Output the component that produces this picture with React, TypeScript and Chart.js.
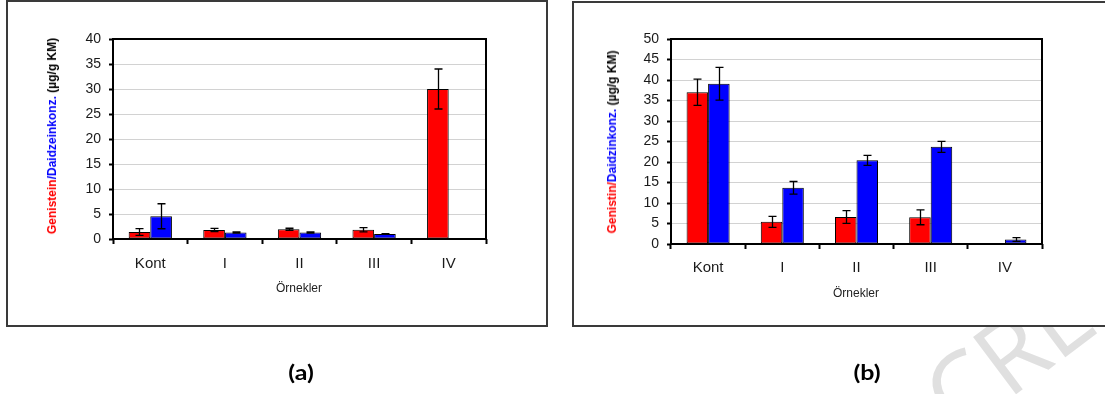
import React, { useEffect, useRef } from "react";
import { Chart, registerables } from "chart.js";

Chart.register(...registerables);

const categories = ["Kont", "I", "II", "III", "IV"];

// Chart (a)
const genisteinA = [1.4, 1.8, 1.95, 1.85, 30.0];
const genisteinErrA = [0.67, 0.33, 0.2, 0.43, 4.0];
const daidzeinA = [4.55, 1.3, 1.3, 1.0, 0];
const daidzeinErrA = [2.5, 0.1, 0.12, 0.08, 0];
const yMaxA = 40;

// Chart (b)
const genistinB = [37.0, 5.4, 6.6, 6.5, 0];
const genistinErrB = [3.2, 1.35, 1.55, 1.8, 0];
const daidzinB = [39.1, 13.7, 20.4, 23.7, 1.1];
const daidzinErrB = [4.0, 1.55, 1.2, 1.35, 0.45];
const yMaxB = 50;

const yStep = 5;

const RED = "#ff0000";
const BLUE = "#0000ff";
const FONT = '"Liberation Sans", Arial, sans-serif';

const errorBarPlugin = {
  id: "errorBars",
  afterDatasetsDraw(chart: any, _args: any, opts: any) {
    const errs: number[][] = opts.errors || [];
    const ctx = chart.ctx;
    const y = chart.scales.y;
    ctx.save();
    ctx.strokeStyle = "#000";
    ctx.lineWidth = 1.3;
    chart.data.datasets.forEach((ds: any, di: number) => {
      const meta = chart.getDatasetMeta(di);
      const e = errs[di] || [];
      meta.data.forEach((bar: any, i: number) => {
        const v = ds.data[i];
        const er = e[i] || 0;
        if (!er) return;
        const x = Math.round(bar.x) + 0.5;
        const yt = y.getPixelForValue(v + er);
        const yb = y.getPixelForValue(Math.max(0, v - er));
        ctx.beginPath();
        ctx.moveTo(x, yt);
        ctx.lineTo(x, yb);
        ctx.moveTo(x - 4, yt);
        ctx.lineTo(x + 4, yt);
        ctx.moveTo(x - 4, yb);
        ctx.lineTo(x + 4, yb);
        ctx.stroke();
      });
    });
    // plot frame
    const a = chart.chartArea;
    ctx.strokeStyle = "#000";
    ctx.lineWidth = 2;
    ctx.strokeRect(a.left, a.top, a.right - a.left, a.bottom - a.top);
    ctx.restore();
  },
};

function BarChart(props: {
  s1: number[];
  e1: number[];
  s2: number[];
  e2: number[];
  yMax: number;
  width: number;
  height: number;
  yWidth: number;
  xHeight: number;
  padTop: number;
  padRight: number;
  xPad: number;
}) {
  const ref = useRef<HTMLCanvasElement | null>(null);
  useEffect(() => {
    if (!ref.current) return;
    const chart = new Chart(ref.current, {
      type: "bar",
      data: {
        labels: categories,
        datasets: [
          {
            data: props.s1,
            backgroundColor: RED,
            borderColor: "#000",
            borderWidth: 1,
            borderSkipped: false,
            categoryPercentage: 0.58,
            barPercentage: 1,
          },
          {
            data: props.s2,
            backgroundColor: BLUE,
            borderColor: "#000",
            borderWidth: 1,
            borderSkipped: false,
            categoryPercentage: 0.58,
            barPercentage: 1,
          },
        ],
      },
      plugins: [errorBarPlugin],
      options: {
        responsive: false,
        animation: false,
        devicePixelRatio: 1,
        layout: {
          padding: { top: props.padTop, right: props.padRight, left: 0, bottom: 0 },
        },
        plugins: {
          legend: { display: false },
          tooltip: { enabled: false },
          errorBars: { errors: [props.e1, props.e2] },
        } as any,
        scales: {
          x: {
            offset: true,
            grid: {
              offset: true,
              drawOnChartArea: false,
              drawTicks: true,
              tickLength: 5,
              tickColor: "#000",
              tickWidth: 2,
              color: "#000",
            },
            border: { display: false },
            ticks: {
              color: "#1a1a1a",
              font: { family: FONT, size: 15 },
              padding: props.xPad,
              maxRotation: 0,
            },
            afterFit: (s: any) => {
              s.height = props.xHeight;
            },
          },
          y: {
            min: 0,
            max: props.yMax,
            grid: {
              color: "#d2d2d2",
              lineWidth: 1,
              drawTicks: true,
              tickLength: 4,
              tickColor: "#000",
              tickWidth: 2,
            },
            border: { display: false },
            ticks: {
              stepSize: yStep,
              color: "#1a1a1a",
              font: { family: FONT, size: 14 },
              padding: 8,
            },
            afterFit: (s: any) => {
              s.width = props.yWidth;
            },
          },
        },
      } as any,
    });
    return () => chart.destroy();
  }, []);
  return <canvas ref={ref} width={props.width} height={props.height} />;
}

const abs = (l: number, t: number): React.CSSProperties => ({
  position: "absolute",
  left: l,
  top: t,
});

const centered = (l: number, t: number, extra: React.CSSProperties = {}): React.CSSProperties => ({
  position: "absolute",
  left: l,
  top: t,
  transform: "translate(-50%,-50%)",
  whiteSpace: "nowrap",
  ...extra,
});

export default function App() {
  return (
    <div
      style={{
        position: "absolute",
        left: 0,
        top: 0,
        width: 1105,
        height: 394,
        background: "#fff",
        overflow: "hidden",
      }}
    >
      {/* watermark (sits behind the white chart frames) */}
      <div
        style={{
          position: "absolute",
          left: 958,
          top: 349,
          fontFamily: '"Open Sans", sans-serif',
          fontSize: 100,
          fontWeight: 400,
          color: "#e0e0e0",
          transform: "rotate(-37deg)",
          transformOrigin: "0px 89px",
          whiteSpace: "nowrap",
          lineHeight: 1,
        }}
      >
        CRE
      </div>

      {/* frames */}
      <div
        style={{
          ...abs(6, 0),
          width: 542,
          height: 327,
          border: "2px solid #3a3a3a",
          boxSizing: "border-box",
          background: "#fff",
        }}
      />
      <div
        style={{
          ...abs(572, 1),
          width: 545,
          height: 326,
          border: "2px solid #3a3a3a",
          boxSizing: "border-box",
          background: "#fff",
        }}
      />

      {/* chart a */}
      <div style={abs(10, 3)}>
        <BarChart
          s1={genisteinA}
          e1={genisteinErrA}
          s2={daidzeinA}
          e2={daidzeinErrA}
          yMax={yMaxA}
          width={534}
          height={318}
          yWidth={103}
          xHeight={82}
          padTop={36}
          padRight={58}
          xPad={11}
        />
      </div>
      {/* chart b */}
      <div style={abs(576, 4)}>
        <BarChart
          s1={genistinB}
          e1={genistinErrB}
          s2={daidzinB}
          e2={daidzinErrB}
          yMax={yMaxB}
          width={520}
          height={318}
          yWidth={95}
          xHeight={78}
          padTop={35}
          padRight={54}
          xPad={10}
        />
      </div>

      {/* y titles */}
      <div
        style={{
          ...centered(52, 136),
          transform: "translate(-50%,-50%) rotate(-90deg)",
          font: `bold 12px ${FONT}`,
        }}
      >
        <span style={{ color: RED }}>Genistein</span>
        <span style={{ color: BLUE }}>/Daidzeinkonz.</span>
        <span style={{ color: "#000" }}> (µg/g KM)</span>
      </div>
      <div
        style={{
          ...centered(612, 142),
          transform: "translate(-50%,-50%) rotate(-90deg)",
          font: `bold 12px ${FONT}`,
        }}
      >
        <span style={{ color: RED }}>Genistin/</span>
        <span style={{ color: BLUE }}>Daidzinkonz.</span>
        <span style={{ color: "#000" }}> (µg/g KM)</span>
      </div>

      {/* x titles */}
      <div style={centered(299, 288, { font: `12px ${FONT}`, color: "#222" })}>Örnekler</div>
      <div style={centered(856, 293, { font: `12px ${FONT}`, color: "#222" })}>Örnekler</div>

      {/* panel labels */}
      <div
        style={centered(301, 372, {
          font: `bold 20px Lato, "Open Sans", sans-serif`,
          color: "#000",
          transform: "translate(-50%,-50%) scaleX(1.25)",
        })}
      >
        (a)
      </div>
      <div
        style={centered(867, 372, {
          font: `bold 20px Lato, "Open Sans", sans-serif`,
          color: "#000",
          transform: "translate(-50%,-50%) scaleX(1.25)",
        })}
      >
        (b)
      </div>
    </div>
  );
}
